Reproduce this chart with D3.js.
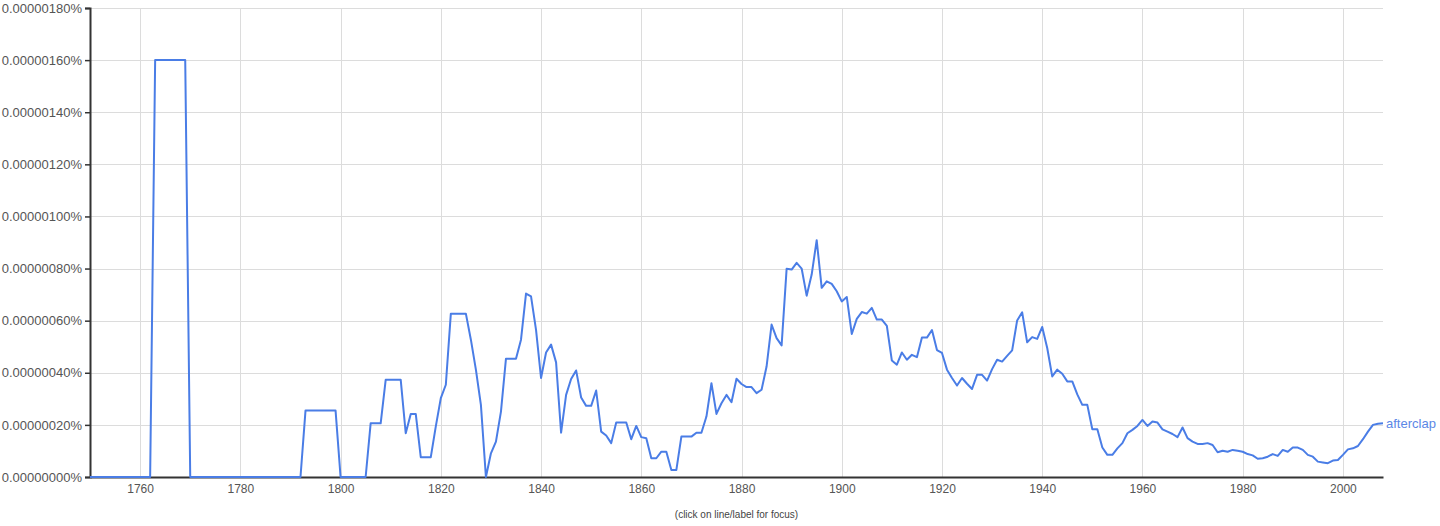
<!DOCTYPE html>
<html>
<head>
<meta charset="utf-8">
<script src="https://cdn.jsdelivr.net/npm/d3@7"></script>
<style>
  html, body { margin: 0; padding: 0; background: #fff; }
  svg { display: block; font-family: "Liberation Sans", Arial, sans-serif; }
</style>
</head>
<body>
<svg id="chart" width="1440" height="526"></svg>
<script>
// ---- data (values in units of 0.00000001 %) ----
const startYear = 1750;
const endYear = 2008;
const seriesName = "afterclap";
const values = [
  // 1750-1762
  0,0,0,0,0,0,0,0,0,0,0,0,0,
  // 1763-1769
  160,160,160,160,160,160,160,
  // 1770-1792
  0,0,0,0,0,0,0,0,0,0,0,0,0,0,0,0,0,0,0,0,0,0,0,
  // 1793-1799
  25.5,25.5,25.5,25.5,25.5,25.5,25.5,
  // 1800-1805
  0,0,0,0,0,0,
  // 1806-1819
  20.6,20.6,20.6,37.3,37.3,37.3,37.3,16.8,24.2,24.2,7.6,7.6,7.6,19.4,
  // 1820-1839
  30.3,35.4,62.7,62.7,62.7,62.7,52.7,41.2,27.7,0,9.1,13.6,25.1,45.4,45.4,45.4,52.7,70.4,69.3,56.5,
  // 1840-1859
  38,47.8,50.8,44,17,31.5,37.6,40.9,30.5,27.3,27.3,33.2,17.4,15.9,13,20.9,20.9,20.9,14.5,19.6,
  // 1860-1879
  15.3,14.9,7.2,7.2,9.7,9.7,2.7,2.7,15.5,15.5,15.5,17,17,23.2,36,24.2,28.3,31.5,28.7,37.7,
  // 1880-1899
  35.7,34.5,34.5,32.2,33.5,42.4,58.5,53.3,50.5,79.9,79.6,82.2,80,69.6,77.7,90.9,72.6,75.1,74.1,71.3,
  // 1900-1919
  67.4,69.1,54.9,60.7,63.3,62.7,64.9,60.4,60.4,58,44.7,43.1,47.8,45,46.9,46,53.5,53.5,56.4,48.7,
  // 1920-1939
  47.6,41.2,38,35.1,38,35.8,33.8,39.2,39.2,37,41.4,45,44.3,46.5,48.6,60.1,63.2,51.7,53.7,53,
  // 1940-1959
  57.6,49.5,38.6,41.2,39.6,36.7,36.7,31.7,27.7,27.7,18.3,18.3,11.3,8.5,8.5,11,13,16.8,18.1,19.6,
  // 1960-1979
  21.9,19.6,21.3,20.9,18.3,17.4,16.5,15.3,19,14.9,13.6,12.7,12.7,13,12.3,9.5,10.1,9.7,10.4,10.1,
  // 1980-1999
  9.7,8.8,8.3,7,7.2,7.8,8.8,8.1,10.4,9.7,11.3,11.3,10.4,8.5,7.8,5.9,5.6,5.3,6.3,6.5,
  // 2000-2008
  8.5,10.6,11,11.9,14.5,17.4,20,20.4,20.6
];
const years = d3.range(startYear, endYear + 1);
const yTicks = [0,20,40,60,80,100,120,140,160,180];
const xTicks = [1760,1780,1800,1820,1840,1860,1880,1900,1920,1940,1960,1980,2000];
const yTickLabels = yTicks.map(v => (v * 1e-8).toFixed(8) + "%");
const footnote = "(click on line/label for focus)";

(function () {
  // ---- layout ----
  const svg = d3.select("#chart");
  const pLeft = 90, pRight = 1383, pTop = 8, pBottom = 477;

  const x = d3.scaleLinear().domain([startYear, endYear]).range([pLeft, pRight]);
  const y = d3.scaleLinear().domain([0, 180]).range([pBottom, pTop]);

  // gridlines
  svg.append("g").selectAll("line").data(yTicks.filter(v => v > 0)).join("line")
    .attr("x1", pLeft).attr("x2", pRight)
    .attr("y1", d => Math.round(y(d)) + 0.5).attr("y2", d => Math.round(y(d)) + 0.5)
    .attr("stroke", "#dcdcdc").attr("stroke-width", 1);
  svg.append("g").selectAll("line").data(xTicks).join("line")
    .attr("x1", d => Math.round(x(d)) + 0.5).attr("x2", d => Math.round(x(d)) + 0.5)
    .attr("y1", pTop).attr("y2", pBottom)
    .attr("stroke", "#dcdcdc").attr("stroke-width", 1);

  // y axis
  const yAxis = d3.axisLeft(y).tickValues(yTicks)
    .tickFormat((d, i) => yTickLabels[i]).tickSize(5).tickPadding(3);
  const gy = svg.append("g").attr("transform", `translate(${pLeft},0)`).call(yAxis);
  gy.select(".domain").attr("stroke", "#333").attr("stroke-width", 2);
  gy.selectAll(".tick line").attr("stroke", "#333").attr("stroke-width", 1.5);
  gy.selectAll(".tick text").attr("fill", "#555").style("font-size", "13px")
    .style("font-family", "'Liberation Sans', Arial, sans-serif");

  // x axis
  const xAxis = d3.axisBottom(x).tickValues(xTicks).tickFormat(d3.format("d"))
    .tickSize(0).tickPadding(7);
  const gx = svg.append("g").attr("transform", `translate(0,${pBottom})`).call(xAxis);
  gx.select(".domain").attr("stroke", "#333").attr("stroke-width", 2);
  gx.selectAll(".tick text").attr("fill", "#555").style("font-size", "12px")
    .style("font-family", "'Liberation Sans', Arial, sans-serif");

  // line
  const lineColor = "#4a7de6";
  const line = d3.line().x((d, i) => x(years[i])).y(d => y(d));
  svg.append("path").datum(values)
    .attr("d", line)
    .attr("fill", "none")
    .attr("stroke", lineColor)
    .attr("stroke-width", 2)
    .attr("stroke-linejoin", "round");

  // series label
  svg.append("text")
    .attr("x", x(endYear) + 3)
    .attr("y", y(values[values.length - 1]))
    .attr("dy", "0.35em")
    .attr("fill", "#5b87e6")
    .style("font-size", "13px")
    .text(seriesName);

  // footnote
  svg.append("text")
    .attr("x", (pLeft + pRight) / 2)
    .attr("y", 518)
    .attr("text-anchor", "middle")
    .attr("fill", "#444")
    .style("font-size", "10px")
    .text(footnote);
})();
</script>
</body>
</html>
